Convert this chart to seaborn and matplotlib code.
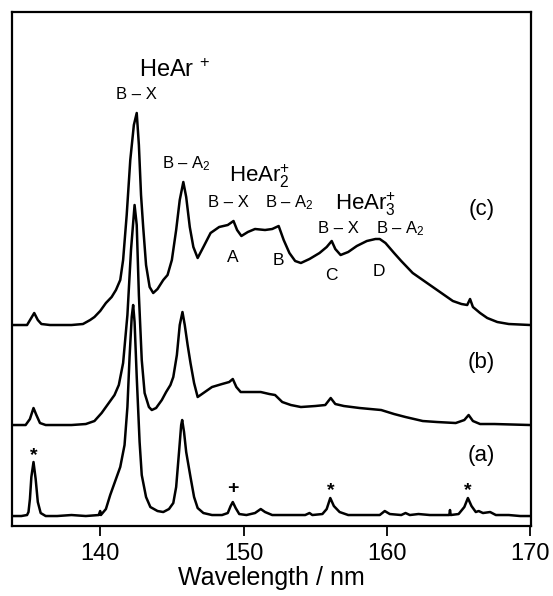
import numpy as np
import pandas as pd
import matplotlib
matplotlib.use("Agg")
import matplotlib.pyplot as plt
import seaborn as sns

# spectrum (a): wavelength (nm) and intensity above its baseline
wl_a = [133.85, 134.5, 134.9, 135.0, 135.1, 135.2, 135.35, 135.5, 135.65, 135.85,
        136.2, 137.0, 138.0, 139.0, 139.9, 140.0, 140.05, 140.4, 140.7, 141.0,
        141.15, 141.4, 141.7, 141.9, 142.05, 142.2, 142.3, 142.4, 142.55, 142.75,
        142.9, 143.2, 143.5, 144.0, 144.4, 144.8, 145.1, 145.3, 145.5, 145.65,
        145.72, 145.85, 146.0, 146.3, 146.55, 146.8, 147.2, 147.8, 148.5, 148.9,
        149.1, 149.25, 149.45, 149.7, 150.2, 150.8, 151.2, 151.5, 152.0, 153.0,
        154.3, 154.6, 154.8, 155.5, 155.8, 156.05, 156.3, 156.7, 157.3, 158.5,
        159.5, 159.85, 160.2, 161.0, 161.3, 161.6, 162.2, 163.0, 164.0, 164.35,
        164.4, 164.45, 165.0, 165.4, 165.65, 165.9, 166.2, 166.4, 166.7, 167.2,
        167.6, 168.5, 169.3, 170.0]
int_a = [1, 1, 2, 5, 18, 40, 55, 38, 15, 4,
         1, 1, 2, 1, 2, 6, 2, 8, 22, 34,
         40, 50, 72, 110, 160, 200, 212, 195, 140, 75,
         42, 20, 10, 6, 5, 8, 14, 30, 65, 92,
         97, 85, 65, 40, 20, 9, 4, 2, 2, 4,
         11, 15, 9, 3, 2, 4, 8, 5, 2, 2,
         2, 4, 2, 3, 8, 19, 11, 5, 2, 2,
         2, 6, 3, 2, 4, 2, 3, 2, 2, 2,
         7, 2, 3, 10, 19, 11, 5, 6, 4, 5,
         2, 2, 1, 1]

# spectrum (b)
wl_b = [133.85, 134.8, 135.1, 135.35, 135.55, 135.8, 136.2, 138.0, 139.0, 139.6,
        140.1, 140.6, 141.0, 141.3, 141.6, 141.9, 142.15, 142.4, 142.55, 142.7,
        142.9, 143.1, 143.4, 143.6, 143.9, 144.3, 144.6, 144.9, 145.1, 145.35,
        145.55, 145.74, 145.9, 146.1, 146.3, 146.55, 146.8, 147.2, 147.8, 148.5,
        149.0, 149.25, 149.5, 149.8, 150.5, 151.2, 151.8, 152.2, 152.7, 153.3,
        154.0, 155.0, 155.7, 156.08, 156.4, 157.0, 158.1, 159.6, 160.5, 161.3,
        162.5, 163.5, 164.8, 165.4, 165.7, 166.0, 166.5, 167.5, 170.0]
int_b = [0, 0, 6, 17, 10, 2, 0, 0, 1, 4,
         12, 22, 30, 40, 62, 110, 175, 220, 200, 130,
         65, 32, 18, 15, 17, 25, 33, 40, 48, 70,
         100, 113, 100, 80, 62, 42, 28, 32, 38, 41,
         43, 46, 38, 33, 33, 33, 31, 30, 23, 20,
         18, 19, 20, 27, 21, 19, 17, 15, 11, 8,
         4, 3, 2, 5, 10, 4, 1, 1, 0]

# spectrum (c)
wl_c = [133.85, 134.9, 135.15, 135.4, 135.65, 135.9, 136.5, 138.0, 138.8, 139.3,
        139.6, 140.0, 140.4, 140.8, 141.1, 141.4, 141.6, 141.85, 142.1, 142.35,
        142.55, 142.7, 142.85, 143.0, 143.2, 143.45, 143.7, 144.0, 144.4, 144.7,
        145.0, 145.3, 145.55, 145.8, 146.0, 146.25, 146.5, 146.8, 147.2, 147.7,
        148.3, 148.9, 149.3, 149.55, 149.85, 150.3, 150.8, 151.5, 152.0, 152.45,
        152.8, 153.2, 153.6, 154.0, 154.6, 155.3, 155.8, 156.15, 156.4, 156.77,
        157.3, 157.9, 158.6, 159.2, 159.5, 159.9, 160.5, 161.0, 161.8, 162.5,
        163.2, 164.0, 164.6, 165.2, 165.6, 165.8, 166.0, 166.5, 167.0, 167.7,
        168.5, 170.0]
int_c = [0, 0, 6, 12, 5, 1, 0, 0, 1, 5,
         8, 14, 22, 28, 35, 45, 65, 110, 165, 200,
         212, 180, 130, 98, 60, 38, 32, 36, 45, 50,
         65, 95, 125, 143, 128, 98, 78, 67, 78, 92,
         98, 100, 104, 95, 89, 93, 96, 95, 96, 99,
         85, 72, 64, 62, 66, 72, 78, 84, 76, 70,
         73, 79, 84, 86, 86, 82, 72, 64, 52, 45,
         38, 30, 24, 21, 20, 26, 18, 12, 7, 3,
         1, 0]

trace_labels = ["(a)", "(b)", "(c)"]
baselines = [9, 101, 201]
ticks = [140, 150, 160, 170]

sns.set_theme(style="ticks")
plt.rcParams["font.family"] = ["Liberation Sans", "DejaVu Sans"]
plt.rcParams["mathtext.fontset"] = "custom"
plt.rcParams["mathtext.rm"] = "Liberation Sans"
plt.rcParams["mathtext.it"] = "Liberation Sans"
plt.rcParams["mathtext.bf"] = "Liberation Sans"
plt.rcParams["text.color"] = "black"
plt.rcParams["axes.labelcolor"] = "black"
plt.rcParams["xtick.color"] = "black"

fig = plt.figure(figsize=(5.53, 5.96), dpi=100)
ax = fig.add_axes([0.0217, 0.1174, 0.9385, 0.8625])

for wl, inten, base in zip([wl_a, wl_b, wl_c], [int_a, int_b, int_c], baselines):
    y = np.array(inten) + base
    sns.lineplot(x=wl, y=y, ax=ax, color="black", linewidth=1.8,
                 estimator=None, sort=False)

ax.set_xlim(133.85, 170.05)
ax.set_ylim(0, 514)
ax.set_yticks([])
ax.set_xticks(ticks)
ax.set_xticklabels([str(t) for t in ticks])
ax.tick_params(axis="x", direction="out", length=7, width=1.3, labelsize=17, pad=5)
for s in ax.spines.values():
    s.set_visible(True)
    s.set_linewidth(1.6)
    s.set_color("black")
ax.set_xlabel("Wavelength / nm", fontsize=18, labelpad=1)
ax.set_ylabel("")

# species labels
ax.text(142.74, 449, "HeAr $^{+}$", fontsize=17, ha="left", va="baseline")
ax.text(141.13, 427, "B \u2013 X", fontsize=12, ha="left", va="baseline")
ax.text(144.28, 358, "B \u2013 A$_2$", fontsize=12, ha="left", va="baseline")
ax.text(148.97, 344, "HeAr$_2^{+}$", fontsize=16, ha="left", va="baseline")
ax.text(147.53, 319, "B \u2013 X", fontsize=12, ha="left", va="baseline")
ax.text(151.47, 319, "B \u2013 A$_2$", fontsize=12, ha="left", va="baseline")
ax.text(156.39, 316, "HeAr$_3^{+}$", fontsize=16, ha="left", va="baseline")
ax.text(155.17, 293, "B \u2013 X", fontsize=12, ha="left", va="baseline")
ax.text(159.22, 293, "B \u2013 A$_2$", fontsize=12, ha="left", va="baseline")

# band letters
for letter, xpos, ypos in zip(["A", "B", "C", "D"],
                              [149.26, 152.46, 156.15, 159.47],
                              [269, 266, 251, 255]):
    ax.text(xpos, ypos, letter, fontsize=12.5, ha="center", va="center")

# trace labels
for lab, ypos in zip(trace_labels, [71, 164, 316]):
    ax.text(166.6, ypos, lab, fontsize=16, ha="center", va="center")

# impurity marks on (a)
for mark, xpos, ypos in zip(["*", "+", "*", "*"],
                            [135.34, 149.25, 156.08, 165.65],
                            [70, 38, 35, 35]):
    ax.text(xpos, ypos, mark, fontsize=14, fontweight="bold", ha="center", va="center")

fig.savefig("out.png", dpi=100)
